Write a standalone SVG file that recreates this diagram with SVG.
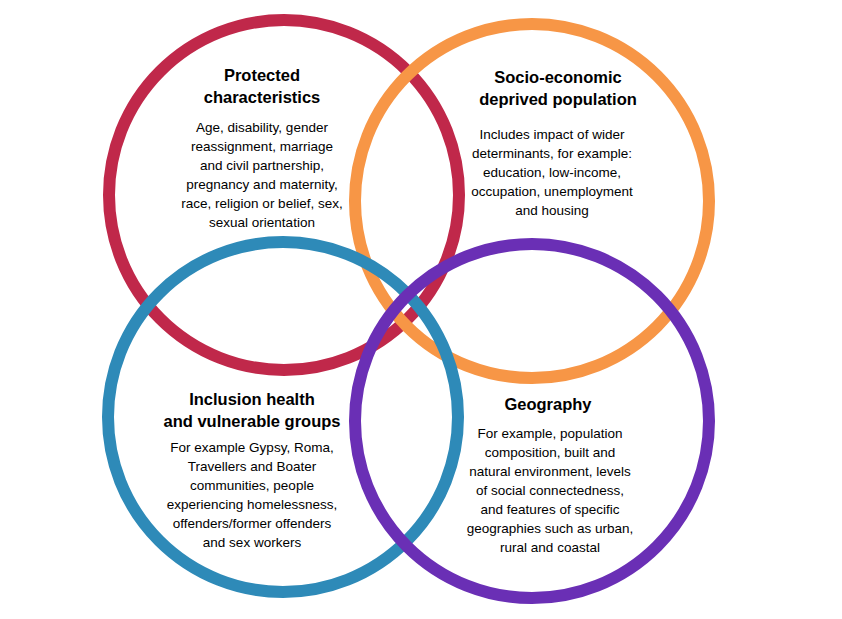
<svg xmlns="http://www.w3.org/2000/svg" width="842" height="619" viewBox="0 0 842 619">
<style>
.c{fill:none;stroke-width:12}
.t{font-family:"Liberation Sans",Arial,sans-serif;font-size:16.5px;font-weight:bold;text-anchor:middle;fill:#000}
.b{font-family:"Liberation Sans",Arial,sans-serif;font-size:13.5px;text-anchor:middle;fill:#000}
</style>
<rect width="842" height="619" fill="#fff"/>
<g id="protected"><circle class="c" cx="284" cy="195" r="175" stroke="#C0284A"/></g>
<g id="socio"><circle class="c" cx="532" cy="201" r="177" stroke="#F79646"/></g>
<g id="inclusion"><circle class="c" cx="283" cy="417" r="175" stroke="#2E8AB8"/></g>
<g id="geography"><circle class="c" cx="532" cy="421" r="177" stroke="#6A2FB5"/></g>
<g id="labels">
<text class="t" x="262" y="81">Protected</text>
<text class="t" x="262" y="103">characteristics</text>
<text class="b" x="262" y="132">Age, disability, gender</text>
<text class="b" x="262" y="151">reassignment, marriage</text>
<text class="b" x="262" y="170">and civil partnership,</text>
<text class="b" x="262" y="189">pregnancy and maternity,</text>
<text class="b" x="262" y="208">race, religion or belief, sex,</text>
<text class="b" x="262" y="227">sexual orientation</text>
<text class="t" x="558" y="83">Socio-economic</text>
<text class="t" x="558" y="105">deprived population</text>
<text class="b" x="552" y="139">Includes  impact of wider</text>
<text class="b" x="552" y="158">determinants, for example:</text>
<text class="b" x="552" y="177">education, low-income,</text>
<text class="b" x="552" y="196">occupation, unemployment</text>
<text class="b" x="552" y="215">and housing</text>
<text class="t" x="252" y="405">Inclusion health</text>
<text class="t" x="252" y="427">and vulnerable groups</text>
<text class="b" x="252" y="452">For example Gypsy, Roma,</text>
<text class="b" x="252" y="471">Travellers and Boater</text>
<text class="b" x="252" y="490">communities, people</text>
<text class="b" x="252" y="509">experiencing homelessness,</text>
<text class="b" x="252" y="528">offenders/former offenders</text>
<text class="b" x="252" y="547">and sex workers</text>
<text class="t" x="548" y="410">Geography</text>
<text class="b" x="550" y="438">For example,  population</text>
<text class="b" x="550" y="457">composition, built and</text>
<text class="b" x="550" y="476">natural environment,  levels</text>
<text class="b" x="550" y="495">of social connectedness,</text>
<text class="b" x="550" y="514">and features of specific</text>
<text class="b" x="550" y="533">geographies such as urban,</text>
<text class="b" x="550" y="552">rural and coastal</text>
</g>
</svg>
